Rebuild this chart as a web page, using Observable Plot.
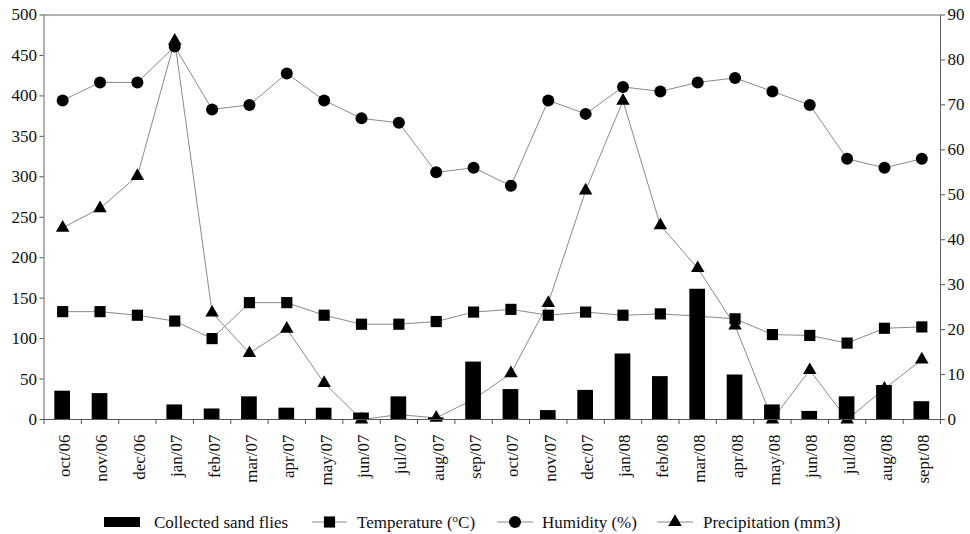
<!DOCTYPE html>
<html><head><meta charset="utf-8">
<script src="https://cdn.jsdelivr.net/npm/d3@7"></script>
<script src="https://cdn.jsdelivr.net/npm/@observablehq/plot@0.6"></script>
<style>
html,body{margin:0;padding:0;background:#fff;}
#chart svg,#legend svg{display:block;}
#chart svg, #chart svg text, #legend svg text{font-family: "Liberation Serif", "DejaVu Serif", serif !important;}
</style></head><body>
<div id="chart"></div>
<div id="legend"></div>
<script>
const months = ["oct/06","nov/06","dec/06","jan/07","feb/07","mar/07","apr/07","may/07","jun/07","jul/07","aug/07","sep/07","oct/07","nov/07","dec/07","jan/08","feb/08","mar/08","apr/08","may/08","jun/08","jul/08","aug/08","sept/08"];
const sandFlies = [35,32,0,18,13,28,14,14,8,28,2,71,37,11,36,81,53,161,55,18,10,28,42,22];
const temperature = [24,24,23.2,21.9,18,26,26,23.2,21.2,21.2,21.8,23.9,24.5,23.2,23.9,23.2,23.5,23,22.4,18.9,18.7,17,20.3,20.6];
const humidity = [71,75,75,83,69,70,77,71,67,66,55,56,52,71,68,74,73,75,76,73,70,58,56,58];
const precipitation = [237,261,301,468,132,82,112,45,0,6,2,25,57,144,283,394,240,187,116,0,61,0,38,74];
const leftTicks = [0,50,100,150,200,250,300,350,400,450,500];
const rightTicks = [0,10,20,30,40,50,60,70,80,90];
const legendLabels = ["Collected sand flies","Temperature (","Humidity (%)","Precipitation (mm3)"];

const k = 500/90; // right-axis units -> left-axis units
const data = months.map((m,i)=>({i, month:m, flies:sandFlies[i], temp:temperature[i], hum:humidity[i], prec:precipitation[i]}));
const lineColor = "#8a8a8a";
const font = "Liberation Serif, DejaVu Serif, serif";

const chart = Plot.plot({
  width: 970, height: 500,
  marginLeft: 43.5, marginRight: 30, marginTop: 14.5, marginBottom: 81,
  style: {fontFamily: font, fontSize: "17px", color: "#111", background: "#fff"},
  x: {type: "linear", domain: [-0.5, 23.5]},
  y: {domain: [0, 500]},
  marks: [
    Plot.ruleY([500], {stroke: "#999", strokeWidth: 1.5}),
    Plot.ruleX([-0.5], {stroke: "#666"}),
    Plot.ruleX([23.5], {stroke: "#666"}),
    Plot.axisY(leftTicks, {anchor: "left", tickSize: 4, tickPadding: 3, label: null, stroke: "#555"}),
    Plot.axisY(rightTicks.map(v => v*k), {anchor: "right", tickSize: 4, tickPadding: 3, tickFormat: d => Math.round(d/k), label: null, stroke: "#555"}),
    Plot.axisX(d3.range(25).map(i => i-0.5), {anchor: "bottom", tickSize: 5, tickFormat: () => "", label: null, stroke: "#555"}),
    Plot.axisX(d3.range(24), {anchor: "bottom", tickSize: 0, tickPadding: 15, tickRotate: -90, tickFormat: i => months[i], label: null, dx: 2}),
    Plot.line(data, {x: "i", y: d => d.hum*k, stroke: lineColor, strokeWidth: 1}),
    Plot.line(data, {x: "i", y: d => d.temp*k, stroke: lineColor, strokeWidth: 1}),
    Plot.line(data, {x: "i", y: "prec", stroke: lineColor, strokeWidth: 1}),
    Plot.dot(data, {x: "i", y: d => d.hum*k, symbol: "circle", r: 6, fill: "#000", stroke: "none"}),
    Plot.dot(data, {x: "i", y: d => d.temp*k, symbol: "square", r: 6.3, fill: "#000", stroke: "none"}),
    Plot.dot(data, {x: "i", y: "prec", symbol: "triangle", r: 5, fill: "#000", stroke: "none"}),
    Plot.rectY(data, {x1: d => d.i-0.21, x2: d => d.i+0.21, y: "flies", fill: "#000"}),
    Plot.ruleY([0], {stroke: "#555"})
  ]
});
document.getElementById("chart").append(chart);

// Legend
const lg = d3.select("#legend").append("svg").attr("width", 970).attr("height", 34)
  .attr("font-family", font).attr("font-size", 17);
const cy = 22;
lg.append("rect").attr("x", 104).attr("y", cy-5).attr("width", 36).attr("height", 10).attr("fill", "#000");
lg.append("text").attr("x", 154).attr("y", cy+6).attr("fill", "#111").text(legendLabels[0]);

const items = [
  {x0: 312, x1: 347, label: 1, sym: d3.symbolSquare, size: Math.PI*6.3*6.3, tx: 357},
  {x0: 497, x1: 533, label: 2, sym: d3.symbolCircle, size: Math.PI*36, tx: 542},
  {x0: 657, x1: 693, label: 3, sym: d3.symbolTriangle, size: Math.PI*25, tx: 703}
];
for (const it of items) {
  lg.append("line").attr("x1", it.x0).attr("x2", it.x1).attr("y1", cy).attr("y2", cy).attr("stroke", lineColor);
  lg.append("path").attr("d", d3.symbol(it.sym, it.size)()).attr("transform", `translate(${(it.x0+it.x1)/2},${cy})`).attr("fill", "#000");
  const t = lg.append("text").attr("x", it.tx).attr("y", cy+6).attr("fill", "#111").text(legendLabels[it.label]);
  if (it.label === 1) {
    t.append("tspan").attr("font-size", "11px").attr("dy", -6).text("o");
    t.append("tspan").attr("dy", 6).attr("font-size", "17px").text("C)");
  }
}
</script>
</body></html>
